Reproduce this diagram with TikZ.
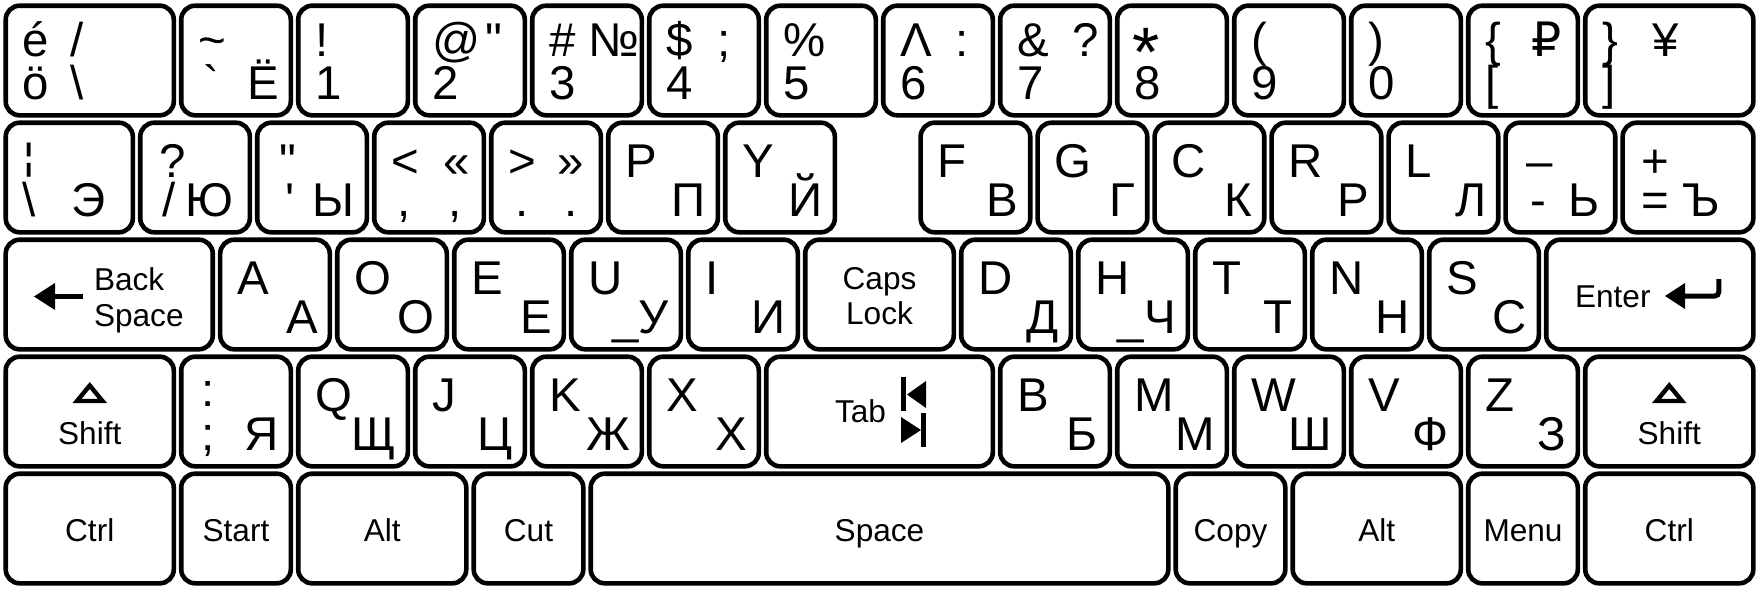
\documentclass[tikz,border=0pt]{standalone}
\usepackage{graphicx}
\usepackage{fontspec}
\setmainfont{Liberation Sans}
\newfontfamily\dejavu{DejaVu Sans}
\newcommand\bigf{\fontsize{23.7pt}{28pt}\selectfont}
\newcommand\smf{\fontsize{15.8pt}{18pt}\selectfont}
\newcommand\mkkey[4]{%
  \pgfmathsetmacro\kcx{2+117*(#2+#3/2)}%
  \pgfmathsetmacro\kcy{2+117*(#4+0.5)}%
  \pgfmathsetmacro\kwd{(117*#3-7.4)/2}%
  \node[keybox, minimum width=\kwd pt] (#1) at (\kcx,\kcy) {};}
\newcommand\legW[5]{\node[lg, anchor=base west] (#1) at ([shift={(#3,#4)}]#2.north west) {#5};}
\newcommand\legE[5]{\node[lg, anchor=base east] (#1) at ([shift={(#3,#4)}]#2.north east) {#5};}
\newcommand\legC[4]{\node[sm, anchor=base] (#1) at ([shift={(0,#3)}]#2.north) {#4};}
\newcommand\legS[5]{\node[sm, anchor=base west] (#1) at ([shift={(#3,#4)}]#2.north west) {#5};}
\begin{document}
\begin{tikzpicture}[x=0.5pt,y={(0pt,-0.5pt)},
  keybox/.style={draw=black, fill=white, line width=2.3pt, rounded corners=7pt,
    minimum height=54.8pt, inner sep=0pt, outer sep=0pt},
  lg/.style={inner sep=0pt, outer sep=0pt, font=\bigf},
  sm/.style={inner sep=0pt, outer sep=0pt, font=\smf},
  sym/.style={fill=black, draw=none}]
\useasboundingbox (0,0) rectangle (1760,590);
\fill[white] (0,0) rectangle (1760,590);
% ---------- row 1
\mkkey{a1}{0}{1.5}{0}
\mkkey{a2}{1.5}{1}{0}
\mkkey{a3}{2.5}{1}{0}
\mkkey{a4}{3.5}{1}{0}
\mkkey{a5}{4.5}{1}{0}
\mkkey{a6}{5.5}{1}{0}
\mkkey{a7}{6.5}{1}{0}
\mkkey{a8}{7.5}{1}{0}
\mkkey{a9}{8.5}{1}{0}
\mkkey{a10}{9.5}{1}{0}
\mkkey{a11}{10.5}{1}{0}
\mkkey{a12}{11.5}{1}{0}
\mkkey{a13}{12.5}{1}{0}
\mkkey{a14}{13.5}{1.5}{0}
\legW{a1t}{a1}{17}{51}{é}
\legW{a1u}{a1}{65}{51}{/}
\legW{a1b}{a1}{17}{93.5}{ö}
\legW{a1c}{a1}{65}{93.5}{\textbackslash}
\legW{a2t}{a2}{17}{51}{\textasciitilde}
\legW{a2b}{a2}{22}{93.5}{\textasciigrave}
\legE{a2r}{a2}{-12}{93.5}{Ё}
\legW{a3t}{a3}{17}{51}{!}
\legW{a3b}{a3}{17}{93.5}{1}
\legW{a4t}{a4}{17}{51}{@}
\legW{a4u}{a4}{70}{51}{\textquotedbl}
\legW{a4b}{a4}{17}{93.5}{2}
\legW{a5t}{a5}{17}{51}{\# №}
\legW{a5b}{a5}{17}{93.5}{3}
\legW{a6t}{a6}{17}{51}{\$}
\legW{a6u}{a6}{68}{51}{;}
\legW{a6b}{a6}{17}{93.5}{4}
\legW{a7t}{a7}{17}{51}{\%}
\legW{a7b}{a7}{17}{93.5}{5}
\legW{a8t}{a8}{17}{51}{Λ}
\legW{a8u}{a8}{72}{51}{:}
\legW{a8b}{a8}{17}{93.5}{6}
\legW{a9t}{a9}{17}{51}{\&}
\legW{a9u}{a9}{72}{51}{?}
\legW{a9b}{a9}{17}{93.5}{7}
\node[lg, anchor=base west, font=\fontsize{35pt}{36pt}\selectfont] (a10t) at ([shift={(15,71)}]a10.north west) {*};
\legW{a10b}{a10}{17}{93.5}{8}
\legW{a11t}{a11}{17}{51}{(}
\legW{a11b}{a11}{17}{93.5}{9}
\legW{a12t}{a12}{17}{51}{)}
\legW{a12b}{a12}{17}{93.5}{0}
\legW{a13t}{a13}{17}{51}{\{}
\legW{a13u}{a13}{63}{51}{{\dejavu ₽}}
\legW{a13b}{a13}{17}{93.5}{[}
\legW{a14t}{a14}{17}{51}{\}}
\legW{a14u}{a14}{67}{51}{¥}
\legW{a14b}{a14}{17}{93.5}{]}
% ---------- row 2
\mkkey{b1}{0}{1.15}{1}
\mkkey{b2}{1.15}{1}{1}
\mkkey{b3}{2.15}{1}{1}
\mkkey{b4}{3.15}{1}{1}
\mkkey{b5}{4.15}{1}{1}
\mkkey{b6}{5.15}{1}{1}
\mkkey{b7}{6.15}{1}{1}
\mkkey{b8}{7.82}{1}{1}
\mkkey{b9}{8.82}{1}{1}
\mkkey{b10}{9.82}{1}{1}
\mkkey{b11}{10.82}{1}{1}
\mkkey{b12}{11.82}{1}{1}
\mkkey{b13}{12.82}{1}{1}
\mkkey{b14}{13.82}{1.18}{1}
\legW{b1t}{b1}{17}{54.5}{\raisebox{0.16em}{\scalebox{1}[0.77]{¦}}}
\legW{b1b}{b1}{17}{94}{\textbackslash}
\legW{b1c}{b1}{66}{94}{Э}
\legW{b2t}{b2}{19}{54.5}{?}
\legW{b2b}{b2}{22}{94}{/}
\legE{b2r}{b2}{-16}{94}{Ю}
\legW{b3t}{b3}{22}{54.5}{\textquotedbl}
\legW{b3b}{b3}{28}{94}{\textquotesingle}
\legE{b3r}{b3}{-12}{94}{Ы}
\legW{b4t}{b4}{17}{54.5}{<}
\legW{b4u}{b4}{69}{54.5}{«}
\legW{b4b}{b4}{23}{94}{,}
\legW{b4c}{b4}{74}{94}{,}
\legW{b5t}{b5}{17}{54.5}{>}
\legW{b5u}{b5}{66}{54.5}{»}
\legW{b5b}{b5}{24}{94}{.}
\legW{b5c}{b5}{73}{94}{.}
\legW{b6t}{b6}{17}{54.5}{P}
\legE{b6r}{b6}{-12}{94}{П}
\legW{b7t}{b7}{17}{54.5}{Y}
\legE{b7r}{b7}{-12}{94}{Й}
\legW{b8t}{b8}{17}{54.5}{F}
\legE{b8r}{b8}{-12}{94}{В}
\legW{b9t}{b9}{17}{54.5}{G}
\legE{b9r}{b9}{-12}{94}{Г}
\legW{b10t}{b10}{17}{54.5}{C}
\legE{b10r}{b10}{-12}{94}{К}
\legW{b11t}{b11}{17}{54.5}{R}
\legE{b11r}{b11}{-12}{94}{Р}
\legW{b12t}{b12}{17}{54.5}{L}
\legE{b12r}{b12}{-12}{94}{Л}
\legW{b13t}{b13}{21}{54.5}{–}
\legW{b13b}{b13}{25}{94}{-}
\legE{b13r}{b13}{-16}{94}{Ь}
\legW{b14t}{b14}{19}{54.5}{+}
\legW{b14b}{b14}{19}{94}{= Ъ}
% ---------- row 3
\mkkey{c1}{0}{1.8333}{2}
\mkkey{c2}{1.8333}{1}{2}
\mkkey{c3}{2.8333}{1}{2}
\mkkey{c4}{3.8333}{1}{2}
\mkkey{c5}{4.8333}{1}{2}
\mkkey{c6}{5.8333}{1}{2}
\mkkey{c7}{6.8333}{1.3333}{2}
\mkkey{c8}{8.1667}{1}{2}
\mkkey{c9}{9.1667}{1}{2}
\mkkey{c10}{10.1667}{1}{2}
\mkkey{c11}{11.1667}{1}{2}
\mkkey{c12}{12.1667}{1}{2}
\mkkey{c13}{13.1667}{1.8333}{2}
\legS{c1t}{c1}{88.3}{50.3}{Back}
\legS{c1b}{c1}{88.3}{86.3}{Space}
\fill[sym] (34,296.5) -- (55,283) -- (55,310) -- cycle;
\fill[sym] (54,294) rectangle (83,299);
\legW{c2t}{c2}{17}{55}{A}
\legE{c2r}{c2}{-12}{94}{А}
\legW{c3t}{c3}{17}{55}{O}
\legE{c3r}{c3}{-12}{94}{О}
\legW{c4t}{c4}{17}{55}{E}
\legE{c4r}{c4}{-12}{94}{Е}
\legW{c5t}{c5}{17}{55}{U}
\legE{c5r}{c5}{-12}{94}{\_У}
\legW{c6t}{c6}{17}{55}{I}
\legE{c6r}{c6}{-12}{94}{И}
\legC{c7t}{c7}{49.3}{Caps}
\legC{c7b}{c7}{84.3}{Lock}
\legW{c8t}{c8}{17}{55}{D}
\legE{c8r}{c8}{-12}{94}{Д}
\legW{c9t}{c9}{17}{55}{H}
\legE{c9r}{c9}{-12}{94}{\_Ч}
\legW{c10t}{c10}{17}{55}{T}
\legE{c10r}{c10}{-12}{94}{Т}
\legW{c11t}{c11}{17}{55}{N}
\legE{c11r}{c11}{-12}{94}{Н}
\legW{c12t}{c12}{17}{55}{S}
\legE{c12r}{c12}{-12}{94}{С}
\legS{c13t}{c13}{28.8}{67.3}{Enter}
\fill[sym] (1665,296) -- (1685,283) -- (1685,309) -- cycle;
\draw[line width=2.5pt, rounded corners=2pt] (1683,296) -| (1718.8,279);
% ---------- row 4
\mkkey{d1}{0}{1.5}{3}
\mkkey{d2}{1.5}{1}{3}
\mkkey{d3}{2.5}{1}{3}
\mkkey{d4}{3.5}{1}{3}
\mkkey{d5}{4.5}{1}{3}
\mkkey{d6}{5.5}{1}{3}
\mkkey{d7}{6.5}{2}{3}
\mkkey{d8}{8.5}{1}{3}
\mkkey{d9}{9.5}{1}{3}
\mkkey{d10}{10.5}{1}{3}
\mkkey{d11}{11.5}{1}{3}
\mkkey{d12}{12.5}{1}{3}
\mkkey{d13}{13.5}{1.5}{3}
\draw[line width=2.2pt, line join=miter] (89.75,385.5) -- (102.5,401) -- (77,401) -- cycle;
\legC{d1s}{d1}{87.3}{Shift}
\legW{d2t}{d2}{20}{50}{:}
\legW{d2b}{d2}{20}{94}{;}
\legE{d2r}{d2}{-12}{94}{Я}
\legW{d3t}{d3}{17}{54.5}{Q}
\legE{d3r}{d3}{-12}{94}{Щ}
\legW{d4t}{d4}{17}{54.5}{J}
\legE{d4r}{d4}{-12}{94}{Ц}
\legW{d5t}{d5}{17}{54.5}{K}
\legE{d5r}{d5}{-12}{94}{Ж}
\legW{d6t}{d6}{17}{54.5}{X}
\legE{d6r}{d6}{-12}{94}{Х}
\legS{d7t}{d7}{68.8}{65.3}{Tab}
\fill[sym] (901,377) rectangle (906,411);
\fill[sym] (907,394.5) -- (926,381) -- (926,408) -- cycle;
\fill[sym] (901,417) -- (921,430) -- (901,443) -- cycle;
\fill[sym] (921,413) rectangle (926,447);
\legW{d8t}{d8}{17}{54.5}{B}
\legE{d8r}{d8}{-12}{94}{Б}
\legW{d9t}{d9}{17}{54.5}{M}
\legE{d9r}{d9}{-12}{94}{М}
\legW{d10t}{d10}{17}{54.5}{W}
\legE{d10r}{d10}{-12}{94}{Ш}
\legW{d11t}{d11}{17}{54.5}{V}
\legE{d11r}{d11}{-12}{94}{Ф}
\legW{d12t}{d12}{17}{54.5}{Z}
\legE{d12r}{d12}{-12}{94}{З}
\draw[line width=2.2pt, line join=miter] (1669.25,385.5) -- (1682,401) -- (1656.5,401) -- cycle;
\legC{d13s}{d13}{87.3}{Shift}
% ---------- row 5
\mkkey{e1}{0}{1.5}{4}
\mkkey{e2}{1.5}{1}{4}
\mkkey{e3}{2.5}{1.5}{4}
\mkkey{e4}{4}{1}{4}
\mkkey{e5}{5}{5}{4}
\mkkey{e6}{10}{1}{4}
\mkkey{e7}{11}{1.5}{4}
\mkkey{e8}{12.5}{1}{4}
\mkkey{e9}{13.5}{1.5}{4}
\legC{e1l}{e1}{67.3}{Ctrl}
\legC{e2l}{e2}{67.3}{Start}
\legC{e3l}{e3}{67.3}{Alt}
\legC{e4l}{e4}{67.3}{Cut}
\legC{e5l}{e5}{67.3}{Space}
\legC{e6l}{e6}{67.3}{Copy}
\legC{e7l}{e7}{67.3}{Alt}
\legC{e8l}{e8}{67.3}{Menu}
\legC{e9l}{e9}{67.3}{Ctrl}
\end{tikzpicture}
\end{document}
